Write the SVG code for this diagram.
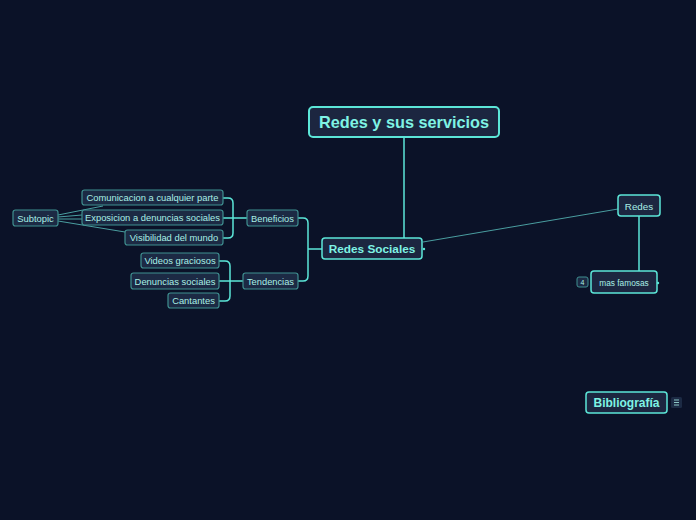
<svg xmlns="http://www.w3.org/2000/svg" width="696" height="520" viewBox="0 0 696 520">
<style>
.bg{fill:#0b1228}
.main{fill:#1c2640;stroke:#5ce6d8;stroke-width:2}
.sub{fill:#1c2640;stroke:#5ce6d8;stroke-width:1.5}
.leaf{fill:#1c2a44;stroke:#3f8f90;stroke-width:1.2}
.tb{font-family:"Liberation Sans",Arial,sans-serif;font-weight:bold;fill:#7ff3e4;text-anchor:middle}
.t{font-family:"Liberation Sans",Arial,sans-serif;fill:#a9efe6;text-anchor:middle}
.c{fill:none;stroke:#5ce6d8;stroke-width:1.5}
.cl{fill:none;stroke:#4a9ea0;stroke-width:1}
</style>
<rect class="bg" x="0" y="0" width="696" height="520"/>
<g id="connectors">
<path class="c" d="M404,137 V238"/>
<path class="cl" d="M423,242 L618,209"/>
<path class="c" d="M639,216 V271"/>
<path class="c" d="M322,249 H308 M298,218 H303 Q308,218 308,223 V276 Q308,281 303,281 H298"/>
<path class="c" d="M247,218 H223 M223,198 H228 Q233,198 233,203 V233 Q233,238 228,238 H223"/>
<path class="c" d="M243,281 H219 M219,261 H225 Q230,261 230,266 V296 Q230,301 225,301 H219"/>
<path class="cl" d="M58,215 L103,206 M58,217 L82,215 M58,219 L82,219 M58,221 L125,232"/>
</g>
<g id="n-main"><rect class="main" x="309" y="107" width="190" height="30" rx="4"/><text class="tb" x="404" y="128" font-size="16.3">Redes y sus servicios</text></g>
<g id="n-redes-sociales"><rect class="sub" x="322" y="238" width="100" height="21" rx="3"/><text class="tb" x="372" y="253" font-size="11.8">Redes Sociales</text><circle cx="424" cy="249" r="1.2" fill="#5ce6d8"/></g>
<g id="n-redes"><rect class="sub" x="618" y="195" width="42" height="21" rx="3"/><text class="t" x="639" y="210" font-size="9.8">Redes</text></g>
<g id="n-mas-famosas"><rect class="sub" x="591" y="271" width="66" height="22" rx="3"/><text class="t" x="624" y="286" font-size="8.3">mas famosas</text><circle cx="658" cy="283" r="1.2" fill="#5ce6d8"/>
<rect x="577" y="277" width="11" height="10" rx="2" fill="#1c2a44" stroke="#3f8f90" stroke-width="1"/><text class="t" x="582.5" y="285" font-size="7">4</text></g>
<g id="n-bibliografia"><rect class="sub" x="586" y="392" width="81" height="21" rx="3"/><text class="tb" x="626.5" y="407" font-size="12">Bibliografía</text>
<rect x="671" y="397" width="11" height="11" rx="1.5" fill="#1c2a44"/><path d="M674,400 H679 M674,402.5 H679 M674,405 H679" stroke="#a9efe6" stroke-width="0.8"/></g>
<g id="n-beneficios"><rect class="leaf" x="247" y="210" width="51" height="16" rx="2.5"/><text class="t" x="272.5" y="221.5" font-size="9.3">Beneficios</text></g>
<g id="n-tendencias"><rect class="leaf" x="243" y="273" width="55" height="16" rx="2.5"/><text class="t" x="270.5" y="284.5" font-size="9.3">Tendencias</text></g>
<g id="n-comunicacion"><rect class="leaf" x="82" y="190" width="141" height="15" rx="2.5"/><text class="t" x="152.5" y="201" font-size="9.4">Comunicacion a cualquier parte</text></g>
<g id="n-exposicion"><rect class="leaf" x="82" y="210" width="141" height="15" rx="2.5"/><text class="t" x="152.5" y="221" font-size="9.4">Exposicion a denuncias sociales</text></g>
<g id="n-visibilidad"><rect class="leaf" x="125" y="230" width="98" height="15" rx="2.5"/><text class="t" x="174" y="241" font-size="9.4">Visibilidad del mundo</text></g>
<g id="n-videos"><rect class="leaf" x="141" y="253" width="78" height="15" rx="2.5"/><text class="t" x="180" y="264" font-size="9.4">Videos graciosos</text></g>
<g id="n-denuncias"><rect class="leaf" x="131" y="273" width="88" height="16" rx="2.5"/><text class="t" x="175" y="284.5" font-size="9.4">Denuncias sociales</text></g>
<g id="n-cantantes"><rect class="leaf" x="168" y="293" width="51" height="15" rx="2.5"/><text class="t" x="193.5" y="304" font-size="9.4">Cantantes</text></g>
<g id="n-subtopic"><rect class="leaf" x="13" y="210" width="45" height="16" rx="2.5"/><text class="t" x="35.5" y="221.5" font-size="9.4">Subtopic</text></g>
</svg>
